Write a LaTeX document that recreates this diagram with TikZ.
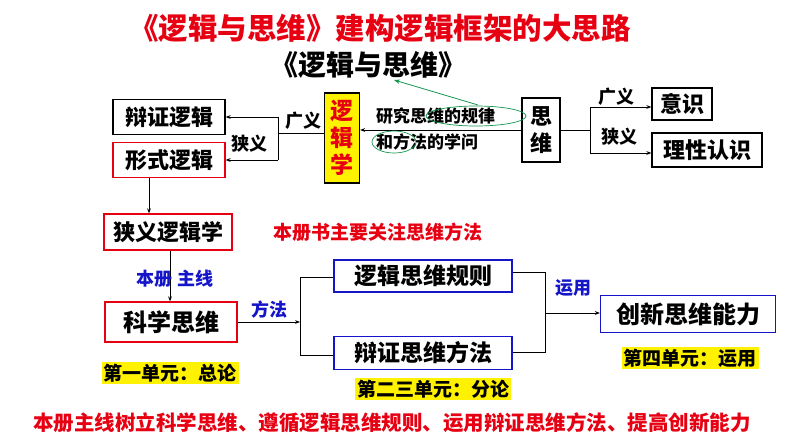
\documentclass[tikz,border=0pt]{standalone}
\usepackage{fontspec}
\setmainfont{Noto Sans CJK SC}[BoldFont={Noto Sans CJK SC Black}]
\usetikzlibrary{arrows.meta}
\definecolor{tred}{RGB}{230,0,18}
\definecolor{tblue}{RGB}{20,20,200}
\definecolor{tgreen}{RGB}{20,150,80}
\tikzset{
 bx/.style={draw=black,line width=1.2pt,fill=white,font=\bfseries\fontsize{22}{24}\selectfont,inner sep=0pt},
 rbx/.style={bx,draw=tred},
 bbx/.style={bx,draw=tblue},
 lab/.style={font=\bfseries\fontsize{18}{20}\selectfont,inner sep=1pt},
 ylab/.style={font=\bfseries\fontsize{19}{21}\selectfont,fill=yellow,inner sep=2pt},
 ln/.style={line width=0.8pt},
 ar/.style={ln,-{Stealth[length=5pt]}},
}
\begin{document}
\begin{tikzpicture}[x=1pt,y=-1pt]
\useasboundingbox (0,0) rectangle (794,447);
\node[font=\bfseries\fontsize{29.5}{31}\selectfont,text=tred] (t1) at (380,28) {《逻辑与思维》建构逻辑框架的大思路};
\node[font=\bfseries\fontsize{28}{30}\selectfont] (t2) at (368,65) {《逻辑与思维》};
\node[bx,minimum width=112,minimum height=35] (bz) at (169,117) {辩证逻辑};
\node[rbx,minimum width=112,minimum height=35] (xs) at (169,160) {形式逻辑};
\node[bx,fill=yellow,minimum width=35,minimum height=90,text=tred,align=center,font=\bfseries\fontsize{23}{27}\selectfont] (lj) at (342,138) {逻\\辑\\学};
\node[bx,minimum width=38,minimum height=64,align=center,font=\bfseries\fontsize{22}{27}\selectfont] (sw) at (541,130) {思\\维};
\node[bx,minimum width=60,minimum height=32] (ys) at (682,104) {意识};
\node[bx,minimum width=110,minimum height=34] (lx) at (707,150) {理性认识};
\coordinate (L) at (278,133);
\draw[ln] (lj.west|-L) -- (L);
\draw[ln] (278,117) -- (278,160);
\draw[ar] (278,117) -- (bz.east|-0,117);
\draw[ar] (278,160) -- (xs.east|-0,160);
\node[lab] at (303,121) {广义};
\node[lab] at (249,144) {狭义};
\draw[ar] (sw.west|-0,130) -- (lj.east|-0,130);
\node[font=\bfseries\fontsize{17}{19}\selectfont,anchor=west,inner sep=0pt] (tx1) at (376,116) {研究思维的规律};
\node[font=\bfseries\fontsize{17}{19}\selectfont,anchor=west,inner sep=0pt] (tx2) at (376,142) {和方法的学问};
\draw[tgreen,line width=0.7pt] (476,116) ellipse (50 and 10);
\draw[tgreen,line width=0.7pt] (394,142) ellipse (22 and 11);
\draw[tgreen,line width=0.8pt,-{Stealth[length=6pt]}] (478,105) -- (394,80);
\draw[ln] (sw.east|-0,130) -- (590,130);
\draw[ln] (590,107) -- (590,153);
\draw[ar] (590,107) -- (ys.west|-0,107);
\draw[ar] (590,153) -- (lx.west|-0,153);
\node[lab] at (616,97) {广义};
\node[lab] at (619,137) {狭义};
\node[rbx,minimum width=128,minimum height=36] (xy) at (168,232) {狭义逻辑学};
\draw[ar] (xs.south-|149,0) -- (xy.north-|149,0);
\node[font=\bfseries\fontsize{19}{21}\selectfont,text=tred] at (378,232) {本册书主要关注思维方法};
\node[rbx,minimum width=132,minimum height=40,font=\bfseries\fontsize{24}{26}\selectfont] (kx) at (171,322) {科学思维};
\draw[ar] (xy.south-|170,0) -- (kx.north-|170,0);
\node[lab,text=tblue] at (175,279) {本册\ 主线};
\node[bbx,minimum width=178,minimum height=32,font=\bfseries\fontsize{23}{25}\selectfont] (gz) at (423,276) {逻辑思维规则};
\node[bbx,minimum width=178,minimum height=33,font=\bfseries\fontsize{23}{25}\selectfont] (ff) at (423,353) {辩证思维方法};
\node[bbx,minimum width=175,minimum height=37,font=\bfseries\fontsize{24}{26}\selectfont] (cx) at (688,314) {创新思维能力};
\draw[ar] (kx.east) -- (300,322);
\draw[ln] (300,277) -- (300,355);
\draw[ln] (300,277) -- (gz.west|-0,277);
\draw[ln] (300,355) -- (ff.west|-0,355);
\node[lab,text=tblue] at (269,310) {方法};
\draw[ln] (gz.east|-0,272) -- (545,272) -- (545,352) -- (ff.east|-0,352);
\draw[ar] (545,313) -- (cx.west|-0,313);
\node[lab,text=tblue] at (573,288) {运用};
\node[ylab] at (170,373) {第一单元：总论};
\node[ylab] at (433,389) {第二三单元：分论};
\node[ylab] at (690,358) {第四单元：运用};
\node[font=\bfseries\fontsize{20.5}{22}\selectfont,text=tred] at (392,423) {本册主线树立科学思维、遵循逻辑思维规则、运用辩证思维方法、提高创新能力};
\end{tikzpicture}
\end{document}
